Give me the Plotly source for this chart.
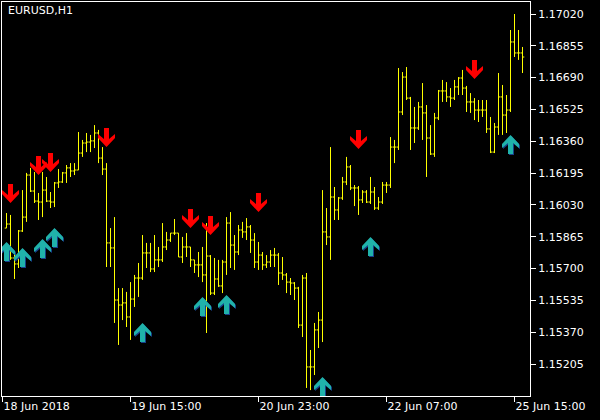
import plotly.graph_objects as go

# ---------------- data (EURUSD, H1) ----------------
bar_index = list(range(130))

opens = [1.15910,1.15931,1.15755,1.15724,1.15895,1.15967,1.16185,1.16102,1.16050,1.16045,
         1.16107,1.16050,1.16045,1.16144,1.16149,1.16196,1.16222,1.16206,1.16211,1.16299,
         1.16351,1.16356,1.16362,1.16403,1.16273,1.16216,1.15833,1.15807,1.15537,1.15511,
         1.15522,1.15449,1.15542,1.15651,1.15651,1.15781,1.15781,1.15698,1.15745,1.15745,
         1.15812,1.15848,1.15884,1.15884,1.15760,1.15812,1.15812,1.15745,1.15719,1.15719,
         1.15667,1.15765,1.15573,1.15646,1.15610,1.15734,1.15936,1.15822,1.15786,1.15900,
         1.15890,1.15916,1.15848,1.15734,1.15770,1.15719,1.15734,1.15770,1.15770,1.15677,
         1.15667,1.15630,1.15625,1.15599,1.15407,1.15651,1.15190,1.15190,1.15382,1.15433,
         1.15890,1.15864,1.16071,1.16004,1.16066,1.16149,1.16227,1.16118,1.16118,1.16056,
         1.16097,1.16045,1.16097,1.16014,1.16045,1.16133,1.16133,1.16330,1.16330,1.16512,
         1.16693,1.16584,1.16429,1.16429,1.16538,1.16507,1.16377,1.16294,1.16481,1.16621,
         1.16621,1.16590,1.16584,1.16642,1.16688,1.16636,1.16564,1.16564,1.16522,1.16522,
         1.16522,1.16424,1.16304,1.16434,1.16590,1.16496,1.16522,1.16875,1.16818,1.16818]

highs = [1.15988,1.15978,1.15786,1.15900,1.16107,1.16196,1.16222,1.16201,1.16092,1.16201,
         1.16175,1.16097,1.16149,1.16216,1.16201,1.16237,1.16247,1.16247,1.16408,1.16367,
         1.16403,1.16393,1.16444,1.16419,1.16330,1.16247,1.15910,1.15967,1.15599,1.15599,
         1.15579,1.15630,1.15667,1.15729,1.15874,1.15833,1.15833,1.15874,1.15812,1.15936,
         1.15890,1.15884,1.15957,1.15884,1.15864,1.15884,1.15812,1.15745,1.15786,1.15812,
         1.15936,1.15770,1.15755,1.15745,1.15745,1.15967,1.15993,1.15874,1.15926,1.15942,
         1.15962,1.15926,1.15884,1.15838,1.15786,1.15770,1.15796,1.15807,1.15781,1.15760,
         1.15677,1.15651,1.15630,1.15605,1.15667,1.15677,1.15278,1.15418,1.15475,1.16107,
         1.16014,1.16330,1.16123,1.16071,1.16175,1.16279,1.16237,1.16133,1.16128,1.16107,
         1.16107,1.16175,1.16123,1.16071,1.16149,1.16149,1.16382,1.16367,1.16740,1.16719,
         1.16745,1.16590,1.16538,1.16564,1.16662,1.16548,1.16444,1.16507,1.16626,1.16678,
         1.16667,1.16636,1.16678,1.16693,1.16730,1.16647,1.16610,1.16584,1.16574,1.16574,
         1.16574,1.16486,1.16455,1.16714,1.16652,1.16600,1.16937,1.17020,1.16937,1.16849]

lows = [1.15910,1.15745,1.15646,1.15703,1.15890,1.15942,1.16097,1.16040,1.15952,1.15967,
        1.16045,1.16014,1.16019,1.16118,1.16144,1.16144,1.16175,1.16185,1.16211,1.16279,
        1.16304,1.16304,1.16325,1.16247,1.16185,1.15708,1.15708,1.15418,1.15304,1.15433,
        1.15397,1.15330,1.15501,1.15553,1.15641,1.15703,1.15682,1.15682,1.15708,1.15734,
        1.15796,1.15838,1.15874,1.15760,1.15729,1.15760,1.15708,1.15677,1.15656,1.15630,
        1.15366,1.15563,1.15563,1.15605,1.15573,1.15667,1.15703,1.15693,1.15770,1.15859,
        1.15848,1.15781,1.15703,1.15693,1.15693,1.15703,1.15708,1.15708,1.15615,1.15641,
        1.15573,1.15563,1.15537,1.15392,1.15345,1.15081,1.15070,1.15148,1.15288,1.15319,
        1.15822,1.15745,1.15952,1.15952,1.16056,1.16133,1.16107,1.16024,1.15978,1.16040,
        1.16040,1.16035,1.16004,1.16004,1.16035,1.16092,1.16118,1.16247,1.16315,1.16496,
        1.16574,1.16315,1.16351,1.16419,1.16367,1.16175,1.16289,1.16279,1.16470,1.16564,
        1.16564,1.16538,1.16574,1.16600,1.16600,1.16512,1.16507,1.16470,1.16460,1.16486,
        1.16403,1.16299,1.16299,1.16393,1.16393,1.16403,1.16512,1.16797,1.16782,1.16714]

closes = [1.15931,1.15755,1.15724,1.15895,1.15967,1.16185,1.16102,1.16050,1.16045,1.16107,
          1.16050,1.16045,1.16144,1.16149,1.16196,1.16222,1.16206,1.16211,1.16299,1.16351,
          1.16356,1.16362,1.16403,1.16273,1.16216,1.15833,1.15807,1.15537,1.15511,1.15522,
          1.15449,1.15542,1.15651,1.15651,1.15781,1.15781,1.15698,1.15745,1.15745,1.15812,
          1.15848,1.15884,1.15884,1.15760,1.15812,1.15812,1.15745,1.15719,1.15719,1.15667,
          1.15765,1.15573,1.15646,1.15610,1.15734,1.15936,1.15822,1.15786,1.15900,1.15890,
          1.15916,1.15848,1.15734,1.15770,1.15719,1.15734,1.15770,1.15770,1.15677,1.15667,
          1.15630,1.15625,1.15599,1.15407,1.15651,1.15190,1.15190,1.15382,1.15433,1.15890,
          1.15864,1.16071,1.16004,1.16066,1.16149,1.16227,1.16118,1.16118,1.16056,1.16097,
          1.16045,1.16097,1.16014,1.16045,1.16133,1.16133,1.16330,1.16330,1.16512,1.16693,
          1.16584,1.16429,1.16429,1.16538,1.16507,1.16377,1.16294,1.16481,1.16621,1.16621,
          1.16590,1.16584,1.16642,1.16688,1.16636,1.16564,1.16564,1.16522,1.16522,1.16522,
          1.16424,1.16304,1.16434,1.16590,1.16496,1.16522,1.16875,1.16818,1.16818,1.16797]

# indicator arrows: bar index and price of the arrow tip
sell_bars = [1, 8, 11, 25, 46, 51, 63, 88, 117]
sell_prices = [1.16040, 1.16185, 1.16201, 1.16330, 1.15910, 1.15874, 1.15993, 1.16320, 1.16683]
buy_bars = [0, 4, 9, 12, 34, 49, 55, 79, 91, 126]
buy_prices = [1.15838, 1.15807, 1.15853, 1.15910, 1.15418, 1.15553, 1.15563, 1.15138, 1.15864, 1.16393]

x_tick_bars = [-1, 31, 63, 95, 127]
x_tick_labels = ["18 Jun 2018", "19 Jun 15:00", "20 Jun 23:00", "22 Jun 07:00", "25 Jun 15:00"]
y_tick_values = [1.17020, 1.16855, 1.16690, 1.16525, 1.16360, 1.16195,
                 1.16030, 1.15865, 1.15700, 1.15535, 1.15370, 1.15205]

# ---------------- styling ----------------
FONT = "DejaVu Sans"
WHITE = "#FFFFFF"
BAR = "#FFFF00"
SELL = "#FF0000"
BUY = "#20B2AA"
BUY_SHADOW = "#173F8A"

DOWN_PATH = "M-2.5,19 L2.5,19 L2.5,8 L8.5,13 L8.5,9 L0,0 L-8.5,9 L-8.5,13 L-2.5,8 Z"
UP_PATH = "M-2.5,-19 L2.5,-19 L2.5,-8 L8.5,-13 L8.5,-9 L0,0 L-8.5,-9 L-8.5,-13 L-2.5,-8 Z"
UP_SHADOW_PATH = "M-1.5,-20 L3.5,-20 L3.5,-9 L9.5,-14 L9.5,-10 L1,-1 L-7.5,-10 L-7.5,-14 L-1.5,-9 Z"

fig = go.Figure()
fig.add_trace(go.Ohlc(
    x=bar_index, open=opens, high=highs, low=lows, close=closes,
    increasing=dict(line=dict(color=BAR, width=1)),
    decreasing=dict(line=dict(color=BAR, width=1)),
    tickwidth=0.45, hoverinfo="skip", showlegend=False,
))

shapes = []
def arrow(xb, price, path, color):
    return dict(type="path", xref="x", yref="y", xsizemode="pixel", ysizemode="pixel",
                xanchor=xb, yanchor=price, path=path, fillcolor=color,
                line=dict(width=0), layer="above")

for b, p in zip(sell_bars, sell_prices):
    shapes.append(arrow(b, p, DOWN_PATH, SELL))
for b, p in zip(buy_bars, buy_prices):
    shapes.append(arrow(b, p, UP_SHADOW_PATH, BUY_SHADOW))
    shapes.append(arrow(b, p, UP_PATH, BUY))

fig.update_layout(
    template="none",
    width=600, height=420,
    margin=dict(l=2, r=70, t=2, b=24, autoexpand=False),
    paper_bgcolor="#000000", plot_bgcolor="#000000",
    showlegend=False,
    font=dict(family=FONT, size=11, color=WHITE),
    shapes=shapes,
    xaxis=dict(
        range=[-1.125, 130.875], showgrid=False, zeroline=False, automargin=False,
        showline=True, linecolor=WHITE, linewidth=1, mirror=True,
        ticks="outside", ticklen=5, tickcolor=WHITE, tickwidth=1,
        tickvals=x_tick_bars, ticktext=x_tick_labels,
        ticklabelposition="outside right",
        tickfont=dict(family=FONT, size=11, color=WHITE),
        rangeslider=dict(visible=False), fixedrange=True,
    ),
    yaxis=dict(
        side="right", range=[1.150393, 1.170822], showgrid=False, zeroline=False,
        automargin=False,
        showline=True, linecolor=WHITE, linewidth=1, mirror=True,
        ticks="outside", ticklen=5, tickcolor=WHITE, tickwidth=1,
        tickvals=y_tick_values, tickformat=".5f",
        tickfont=dict(family=FONT, size=11, color=WHITE), fixedrange=True,
    ),
    annotations=[dict(
        text="EURUSD,H1", xref="paper", yref="paper", x=0.0095, y=0.997,
        xanchor="left", yanchor="top", showarrow=False, borderpad=0,
        font=dict(family=FONT, size=11, color=WHITE),
    )],
)

fig.write_html(
    "out.html",
    config={"displayModeBar": False},
    post_script="document.body.style.margin='0';document.body.style.background='#000';",
)
